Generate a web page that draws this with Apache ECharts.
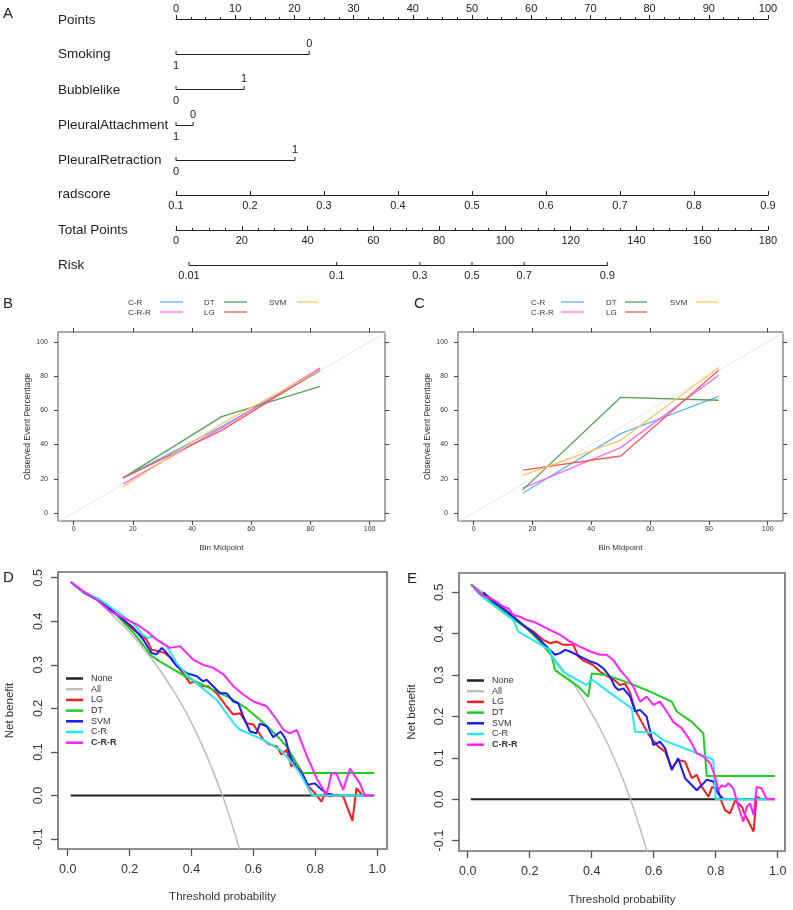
<!DOCTYPE html>
<html><head><meta charset="utf-8">
<script src="https://cdn.jsdelivr.net/npm/echarts@6/dist/echarts.min.js"></script>
<style>html,body{margin:0;padding:0;background:#fff}#c{width:793px;height:910px}</style>
</head><body><div id="c"></div>
<script>
const FF = "'Liberation Sans', Arial, Helvetica, sans-serif";

// ---------- Panel A: nomogram ----------
const factorNames = ['Smoking', 'Bubblelike', 'PleuralAttachment', 'PleuralRetraction'];
const factorLevels = [['1', '0'], ['0', '1'], ['1', '0'], ['0', '1']];
const factorPoints = [[0, 22.5], [0, 11.5], [0, 2.9], [0, 20.1]];
const pointsRange = [0, 100];
const radscoreRange = [0.1, 0.9];
const totalPointsRange = [0, 180];
const riskTicks = [0.01, 0.1, 0.3, 0.5, 0.7, 0.9];
const riskTotalAtHalf = 90;     // total points where risk = 0.5
const riskSlope = 0.0534;       // logit per total point

// ---------- Panels B, C: calibration ----------
const calNames = ['C-R', 'C-R-R', 'DT', 'LG', 'SVM'];
const calBins = [16.7, 50, 83.3];
const B_CR = [20.5, 50.5, 83];
const B_CRR = [17, 49.7, 84.8];
const B_DT = [20.5, 56.3, 74];
const B_LG = [20.5, 48.3, 83.8];
const B_SVM = [15.3, 52.2, 83.6];
const C_CR = [11.5, 46.4, 68.2];
const C_CRR = [14.5, 38.2, 80.5];
const C_DT = [13.5, 67.6, 65.9];
const C_LG = [25, 33.3, 83.4];
const C_SVM = [22, 42.5, 85];
const calTicks = [0, 20, 40, 60, 80, 100];

// ---------- Panels D, E: decision curves ----------
const dcaNames = ['None', 'All', 'LG', 'DT', 'SVM', 'C-R', 'C-R-R'];
const dcaTicksX = [0, 0.2, 0.4, 0.6, 0.8, 1.0];
const dcaTicksY = [-0.1, 0, 0.1, 0.2, 0.3, 0.4, 0.5];

const D_None = [[0.01, 0], [0.99, 0]];
const D_All = [[0.01, 0.49], [0.05, 0.47], [0.1, 0.444], [0.15, 0.41], [0.2, 0.375], [0.25, 0.333], [0.3, 0.286], [0.35, 0.231], [0.4, 0.167], [0.45, 0.09], [0.5, 0], [0.53, -0.064], [0.56, -0.135]];
const D_LG = [[0.01, 0.49], [0.05, 0.467], [0.104, 0.446], [0.158, 0.416], [0.212, 0.381], [0.234, 0.37], [0.255, 0.358], [0.271, 0.335], [0.293, 0.331], [0.314, 0.327], [0.341, 0.312], [0.368, 0.285], [0.395, 0.258], [0.411, 0.262], [0.427, 0.251], [0.454, 0.251], [0.481, 0.235], [0.513, 0.205], [0.535, 0.186], [0.557, 0.189], [0.578, 0.166], [0.6, 0.163], [0.632, 0.128], [0.653, 0.117], [0.675, 0.113], [0.691, 0.094], [0.707, 0.105], [0.723, 0.067], [0.739, 0.074], [0.756, 0.055], [0.778, 0.021], [0.799, 0.005], [0.82, -0.014], [0.831, 0.005], [0.847, -0.002], [0.869, 0.002], [0.89, -0.002], [0.92, -0.058], [0.933, 0.017], [0.95, 0.002], [0.966, 0]];
const D_DT = [[0.01, 0.49], [0.05, 0.467], [0.104, 0.446], [0.158, 0.414], [0.212, 0.374], [0.245, 0.345], [0.268, 0.322], [0.3, 0.307], [0.384, 0.272], [0.449, 0.25], [0.524, 0.224], [0.578, 0.2], [0.632, 0.167], [0.675, 0.138], [0.707, 0.113], [0.739, 0.075], [0.755, 0.052], [0.99, 0.052]];
const D_SVM = [[0.01, 0.49], [0.05, 0.467], [0.104, 0.446], [0.158, 0.416], [0.212, 0.385], [0.244, 0.358], [0.271, 0.327], [0.287, 0.324], [0.304, 0.339], [0.32, 0.327], [0.352, 0.297], [0.384, 0.281], [0.417, 0.274], [0.438, 0.262], [0.449, 0.266], [0.47, 0.251], [0.492, 0.235], [0.513, 0.235], [0.535, 0.216], [0.551, 0.212], [0.567, 0.182], [0.589, 0.147], [0.61, 0.143], [0.621, 0.165], [0.643, 0.159], [0.664, 0.134], [0.688, 0.147], [0.704, 0.13], [0.718, 0.092], [0.733, 0.07], [0.755, 0.052], [0.775, 0.025], [0.799, 0.028], [0.815, 0.017], [0.836, 0.005], [0.858, 0.002]];
const D_CR = [[0.01, 0.49], [0.05, 0.468], [0.104, 0.45], [0.158, 0.423], [0.212, 0.395], [0.244, 0.368], [0.26, 0.362], [0.275, 0.365], [0.32, 0.343], [0.352, 0.304], [0.384, 0.278], [0.427, 0.251], [0.481, 0.22], [0.535, 0.167], [0.556, 0.151], [0.578, 0.145], [0.632, 0.128], [0.686, 0.105], [0.707, 0.09], [0.75, 0.052], [0.79, 0], [0.99, 0]];
const D_CRR = [[0.01, 0.49], [0.05, 0.469], [0.094, 0.45], [0.137, 0.423], [0.18, 0.408], [0.223, 0.393], [0.255, 0.377], [0.287, 0.358], [0.33, 0.339], [0.363, 0.343], [0.405, 0.312], [0.438, 0.3], [0.47, 0.293], [0.503, 0.278], [0.535, 0.251], [0.567, 0.232], [0.6, 0.216], [0.643, 0.205], [0.675, 0.174], [0.697, 0.151], [0.718, 0.143], [0.74, 0.151], [0.772, 0.092], [0.804, 0.04], [0.836, 0.002], [0.853, 0.052], [0.869, 0.05], [0.89, 0.013], [0.912, 0.062], [0.944, 0.028], [0.96, 0], [0.99, 0]];

const E_None = [[0.01, 0], [0.99, 0]];
const E_All = [[0.01, 0.52], [0.05, 0.5], [0.1, 0.472], [0.15, 0.441], [0.2, 0.406], [0.25, 0.367], [0.3, 0.321], [0.35, 0.269], [0.4, 0.208], [0.45, 0.136], [0.5, 0.05], [0.525, 0], [0.55, -0.056], [0.58, -0.131]];
const E_LG = [[0.05, 0.496], [0.083, 0.477], [0.115, 0.457], [0.147, 0.437], [0.179, 0.421], [0.212, 0.405], [0.244, 0.385], [0.265, 0.377], [0.287, 0.381], [0.308, 0.373], [0.341, 0.373], [0.357, 0.345], [0.373, 0.335], [0.405, 0.324], [0.427, 0.308], [0.448, 0.298], [0.47, 0.29], [0.491, 0.276], [0.508, 0.28], [0.524, 0.256], [0.54, 0.216], [0.561, 0.187], [0.588, 0.151], [0.615, 0.127], [0.637, 0.115], [0.658, 0.075], [0.679, 0.095], [0.701, 0.091], [0.723, 0.051], [0.739, 0.059], [0.755, 0.03], [0.777, 0.006], [0.788, 0.03], [0.808, 0.022], [0.819, -0.006], [0.83, -0.026], [0.846, -0.034], [0.863, -0.002], [0.884, -0.018], [0.895, -0.038], [0.922, -0.078], [0.932, 0.006], [0.943, 0.002]];
const E_DT = [[0.01, 0.519], [0.083, 0.473], [0.137, 0.441], [0.19, 0.413], [0.233, 0.381], [0.26, 0.357], [0.271, 0.345], [0.282, 0.312], [0.319, 0.292], [0.357, 0.272], [0.389, 0.248], [0.4, 0.304], [0.448, 0.3], [0.524, 0.28], [0.588, 0.26], [0.658, 0.236], [0.674, 0.212], [0.723, 0.187], [0.76, 0.159], [0.771, 0.056], [0.99, 0.056]];
const E_SVM = [[0.05, 0.5], [0.083, 0.477], [0.115, 0.461], [0.147, 0.441], [0.179, 0.421], [0.212, 0.401], [0.244, 0.377], [0.265, 0.361], [0.282, 0.349], [0.298, 0.353], [0.314, 0.361], [0.33, 0.357], [0.352, 0.349], [0.373, 0.341], [0.395, 0.333], [0.416, 0.328], [0.438, 0.316], [0.459, 0.296], [0.475, 0.272], [0.486, 0.264], [0.502, 0.268], [0.524, 0.248], [0.54, 0.212], [0.556, 0.216], [0.577, 0.2], [0.599, 0.131], [0.62, 0.139], [0.637, 0.123], [0.658, 0.071], [0.679, 0.099], [0.701, 0.051], [0.739, 0.022], [0.771, 0.047], [0.792, 0.043], [0.808, 0.014], [0.825, 0]];
const E_CR = [[0.02, 0.508], [0.061, 0.481], [0.147, 0.433], [0.163, 0.405], [0.265, 0.361], [0.271, 0.344], [0.308, 0.308], [0.384, 0.276], [0.4, 0.29], [0.459, 0.257], [0.529, 0.22], [0.54, 0.163], [0.599, 0.161], [0.631, 0.143], [0.782, 0.099], [0.792, 0.095], [0.8, 0], [0.99, 0]];
const E_CRR = [[0.013, 0.518], [0.045, 0.493], [0.072, 0.486], [0.094, 0.477], [0.115, 0.465], [0.131, 0.461], [0.147, 0.445], [0.169, 0.441], [0.19, 0.433], [0.212, 0.429], [0.244, 0.417], [0.265, 0.409], [0.298, 0.397], [0.33, 0.381], [0.362, 0.369], [0.395, 0.357], [0.427, 0.349], [0.448, 0.349], [0.47, 0.336], [0.492, 0.312], [0.513, 0.294], [0.534, 0.272], [0.556, 0.236], [0.577, 0.248], [0.599, 0.228], [0.62, 0.236], [0.642, 0.212], [0.663, 0.187], [0.69, 0.172], [0.717, 0.143], [0.739, 0.111], [0.76, 0.103], [0.782, 0.087], [0.798, 0.055], [0.808, 0.022], [0.819, 0.034], [0.83, 0.03], [0.841, 0.039], [0.857, 0.026], [0.873, -0.018], [0.889, -0.054], [0.9, -0.018], [0.911, -0.01], [0.922, -0.038], [0.932, 0.03], [0.948, 0.026], [0.964, 0.002], [0.99, 0]];

// ---------- styling ----------
const calColors = ['#5fb0f5', '#f76cf0', '#55a055', '#f25a5a', '#fcc55e'];
const dcaColors = ['#222222', '#bdbdbd', '#ff1a1a', '#1fcc1f', '#1a1aff', '#25e8f0', '#ff22ff'];
const TXT = '#222';

const nomoRows = [
  { label: 'Points', y: 19, ty: 20, kind: 'axis' },
  { label: factorNames[0], y: 54, kind: 'factor', idx: 0 },
  { label: factorNames[1], y: 88.5, ty: 90, kind: 'factor', idx: 1 },
  { label: factorNames[2], y: 125, kind: 'factor', idx: 2 },
  { label: factorNames[3], y: 160, kind: 'factor', idx: 3 },
  { label: 'radscore', y: 195, ty: 194, kind: 'axis' },
  { label: 'Total Points', y: 230, kind: 'axis' },
  { label: 'Risk', y: 265, kind: 'risk' }
];

function riskToPoints(p) {
  const tp = riskTotalAtHalf + Math.log(p / (1 - p)) / riskSlope;
  return tp * (pointsRange[1] - pointsRange[0]) / (totalPointsRange[1] - totalPointsRange[0]);
}
function tLine(x1, y1, x2, y2) {
  return { type: 'line', shape: { x1, y1, x2, y2 }, style: { stroke: TXT, lineWidth: 1 } };
}
function tText(text, x, y, size, align, va) {
  return { type: 'text', x, y, style: { text, fill: TXT, fontSize: size, fontFamily: FF,
    align: align, textAlign: align, verticalAlign: va, textVerticalAlign: va } };
}
function renderNomo(params, api) {
  const r = nomoRows[params.dataIndex];
  const y = Math.round(api.coord([0, r.y])[1]) + 0.5;
  const ty = r.ty != null ? api.coord([0, r.ty])[1] : y;
  const ch = [tText(r.label, 58, ty, 13.5, 'left', 'middle')];
  if (r.kind === 'factor') {
    const pts = factorPoints[r.idx], lv = factorLevels[r.idx];
    const x0 = api.coord([pts[0], 0])[0], x1 = api.coord([pts[1], 0])[0];
    ch.push(tLine(x0, y, x1, y), tLine(x0, y, x0, y - 3.5), tLine(x1, y, x1, y - 3.5));
    ch.push(tText(lv[0], x0, y + 11, 11, 'center', 'middle'));
    ch.push(tText(lv[1], x1, y - 11, 11, 'center', 'middle'));
  } else if (r.kind === 'risk') {
    const xs = riskTicks.map(p => api.coord([riskToPoints(p), 0])[0]);
    ch.push(tLine(xs[0], y, xs[xs.length - 1], y));
    riskTicks.forEach((p, i) => {
      ch.push(tLine(xs[i], y, xs[i], y - 3.5));
      ch.push(tText(String(p), xs[i], y + 10.5, 11, 'center', 'middle'));
    });
  }
  return { type: 'group', children: ch };
}

function nomoAxis(gridIndex, pos, range, interval, minor, fmt) {
  return {
    gridIndex, type: 'value', position: pos, min: range[0], max: range[1], interval,
    axisLine: { show: true, onZero: false, lineStyle: { color: TXT, width: 1 } },
    axisTick: { show: true, inside: pos === 'bottom', length: 4, lineStyle: { color: TXT, width: 1 } },
    minorTick: { show: minor, splitNumber: 4, length: 2, lineStyle: { color: TXT, width: 1 } },
    axisLabel: { show: true, margin: pos === 'bottom' ? 5 : 5, fontSize: 11, fontFamily: FF, color: TXT, formatter: fmt },
    splitLine: { show: false }, minorSplitLine: { show: false }
  };
}
function hiddenY(gridIndex) { return { gridIndex, type: 'value', show: false, min: 0, max: 1 }; }

const CAL_X = [-5.3, 105.2], CAL_Y = [-4.7, 105.8];
function calX(gridIndex, pos, labels) {
  return {
    gridIndex, type: 'value', position: pos, min: CAL_X[0], max: CAL_X[1],
    axisLine: { show: false, onZero: false },
    axisTick: { show: true, length: 4, customValues: calTicks, lineStyle: { color: '#444', width: 1 } },
    axisLabel: { show: labels, customValues: calTicks, fontSize: 7, margin: 5, color: '#333', fontFamily: FF },
    splitLine: { show: false },
    name: labels ? 'Bin Midpoint' : '', nameLocation: 'middle', nameGap: 23,
    nameTextStyle: { fontSize: 8, color: '#333', fontFamily: FF }
  };
}
function calY(gridIndex, pos, labels) {
  return {
    gridIndex, type: 'value', position: pos, min: CAL_Y[0], max: CAL_Y[1],
    axisLine: { show: false, onZero: false },
    axisTick: { show: true, length: 4, customValues: calTicks, lineStyle: { color: '#444', width: 1 } },
    axisLabel: { show: labels, customValues: calTicks, fontSize: 7, margin: 10, color: '#333', fontFamily: FF },
    splitLine: { show: false },
    name: labels ? 'Observed Event Percentage' : '', nameLocation: 'middle', nameGap: 24,
    nameTextStyle: { fontSize: 8.5, color: '#333', fontFamily: FF }
  };
}
function dcaX(gridIndex, range, gap) {
  return {
    gridIndex, type: 'value', min: range[0], max: range[1],
    axisLine: { show: false, onZero: false },
    axisTick: { show: true, length: 7, customValues: dcaTicksX, lineStyle: { color: '#555', width: 1.3 } },
    axisLabel: { show: true, customValues: dcaTicksX, fontSize: 12.5, margin: 14, color: '#333', fontFamily: FF,
      formatter: v => v.toFixed(1) },
    splitLine: { show: false },
    name: 'Threshold probability', nameLocation: 'middle', nameGap: gap,
    nameTextStyle: { fontSize: 11.5, color: '#333', fontFamily: FF }
  };
}
function dcaY(gridIndex, range, gap) {
  return {
    gridIndex, type: 'value', min: range[0], max: range[1],
    axisLine: { show: false, onZero: false },
    axisTick: { show: true, length: 7, customValues: dcaTicksY, lineStyle: { color: '#555', width: 1.3 } },
    axisLabel: { show: true, customValues: dcaTicksY, rotate: 90, fontSize: 12.5, margin: 13, color: '#333', fontFamily: FF,
      formatter: v => v.toFixed(1) },
    splitLine: { show: false },
    name: 'Net benefit', nameLocation: 'middle', nameGap: gap, nameRotate: 90,
    nameTextStyle: { fontSize: 11.5, color: '#333', fontFamily: FF }
  };
}

const dGrid = { left: 58, top: 572, width: 329, height: 277 };
const eGrid = { left: 459, top: 573, width: 326, height: 278 };
const D_X = [-0.0313, 1.0317], D_Y = [-0.1226, 0.5131];
const E_X = [-0.028, 1.0235], E_Y = [-0.1249, 0.5466];

const grids = [
  { left: 176, top: 0, width: 592, height: 280, show: false },   // 0 nomogram custom
  { left: 176, top: 19, width: 592, height: 1, show: false },    // 1 points
  { left: 176, top: 194, width: 592, height: 1, show: false },   // 2 radscore
  { left: 176, top: 229, width: 592, height: 1, show: false },   // 3 total points
  { left: 58, top: 332, width: 327, height: 189, show: true, borderColor: '#555', borderWidth: 1, backgroundColor: '#fff' }, // 4 B
  { left: 458, top: 332, width: 325, height: 189, show: true, borderColor: '#555', borderWidth: 1, backgroundColor: '#fff' }, // 5 C
  Object.assign({ show: true, borderColor: '#6e6e6e', borderWidth: 1.6, backgroundColor: '#fff' }, dGrid), // 6 D
  Object.assign({ show: true, borderColor: '#6e6e6e', borderWidth: 1.6, backgroundColor: '#fff' }, eGrid)  // 7 E
];

const xAxes = [
  { gridIndex: 0, type: 'value', min: pointsRange[0], max: pointsRange[1], show: false },
  nomoAxis(1, 'top', pointsRange, 10, true),
  nomoAxis(2, 'bottom', radscoreRange, 0.1, false, v => v.toFixed(1)),
  nomoAxis(3, 'bottom', totalPointsRange, 20, true),
  calX(4, 'bottom', true), calX(4, 'top', false),
  calX(5, 'bottom', true), calX(5, 'top', false),
  dcaX(6, D_X, 42), dcaX(7, E_X, 43)
];
const yAxes = [
  { gridIndex: 0, type: 'value', min: 0, max: 280, inverse: true, show: false },
  hiddenY(1), hiddenY(2), hiddenY(3),
  calY(4, 'left', true), calY(4, 'right', false),
  calY(5, 'left', true), calY(5, 'right', false),
  dcaY(6, D_Y, 42), dcaY(7, E_Y, 41)
];

const series = [];
// Decision curves first (legends look up colours by name)
[[D_None, D_All, D_LG, D_DT, D_SVM, D_CR, D_CRR], [E_None, E_All, E_LG, E_DT, E_SVM, E_CR, E_CRR]].forEach((set, pi) => {
  set.forEach((data, i) => {
    series.push({
      type: 'line', name: dcaNames[i], xAxisIndex: 8 + pi, yAxisIndex: 8 + pi, data,
      symbol: 'none', color: dcaColors[i], smooth: dcaNames[i] === 'All' ? 0.4 : false,
      lineStyle: { width: dcaNames[i] === 'All' ? 1.5 : 2, color: dcaColors[i] },
      clip: true, silent: true, z: 2 + i
    });
  });
});
// Calibration
[[B_CR, B_CRR, B_DT, B_LG, B_SVM], [C_CR, C_CRR, C_DT, C_LG, C_SVM]].forEach((set, pi) => {
  const ax = 4 + pi * 2;
  series.push({ type: 'line', name: 'cal-ref-' + pi, xAxisIndex: ax, yAxisIndex: ax,
    data: [[-10, -10], [110, 110]], symbol: 'none', color: '#e8e8e8', lineStyle: { width: 1, color: '#e6e6e6' }, clip: true, silent: true, z: 1 });
  set.forEach((vals, i) => {
    series.push({ type: 'line', name: 'cal' + pi + '-' + calNames[i], xAxisIndex: ax, yAxisIndex: ax,
      data: calBins.map((b, k) => [b, vals[k]]), symbol: 'none', color: calColors[i],
      lineStyle: { width: 1.3, color: calColors[i] }, clip: true, silent: true, z: 2 + i });
  });
});
// Nomogram
series.push({ type: 'custom', name: 'nomogram', xAxisIndex: 0, yAxisIndex: 0, coordinateSystem: 'cartesian2d',
  renderItem: renderNomo, data: nomoRows.map(r => [0, r.y]), silent: true, clip: false });

function dcaLegend(left, top) {
  return {
    orient: 'vertical', left, top, padding: 0, itemWidth: 17, itemHeight: 2.5, itemGap: 1.7, icon: 'rect',
    selectedMode: false,
    data: dcaNames.map(n => n === 'C-R-R' ? { name: n, textStyle: { fontWeight: 'bold' } } : { name: n }),
    textStyle: { fontSize: 9, fontFamily: FF, color: '#333', padding: [0, 0, 0, 3] }
  };
}

// Calibration legends (text + line key)
function calLegend(textCols, lineCols, rowsY) {
  const g = [];
  const layout = [[0, 0], [0, 1], [1, 0], [1, 1], [2, 0]];
  calNames.forEach((n, i) => {
    const [c, r] = layout[i];
    g.push({ type: 'text', x: textCols[c], y: rowsY[r], style: { text: n, fill: '#333', fontSize: 8, fontFamily: FF,
      verticalAlign: 'middle', textVerticalAlign: 'middle' } });
    g.push({ type: 'line', shape: { x1: lineCols[c][0], y1: rowsY[r] - 0.5, x2: lineCols[c][1], y2: rowsY[r] - 0.5 },
      style: { stroke: calColors[i], lineWidth: 1.3 } });
  });
  return g;
}
function letter(t, x, y) {
  return { type: 'text', x, y, style: { text: t, fill: TXT, fontSize: 15, fontFamily: FF } };
}

const graphic = [
  letter('A', 3, 6), letter('B', 3, 296), letter('C', 414, 296), letter('D', 3, 570), letter('E', 407, 571),
  ...calLegend([128, 204, 269], [[160, 183], [224, 247], [297, 318]], [302.5, 312.5]),
  ...calLegend([531, 606, 670], [[561, 584], [625, 647], [696, 718]], [302.5, 312.5])
];

const chart = echarts.init(document.getElementById('c'), null, { renderer: 'canvas' });
chart.setOption({
  animation: false,
  backgroundColor: '#fff',
  grid: grids,
  xAxis: xAxes,
  yAxis: yAxes,
  legend: [dcaLegend(66, 674), dcaLegend(467, 676)],
  graphic,
  series
});
</script></body></html>
